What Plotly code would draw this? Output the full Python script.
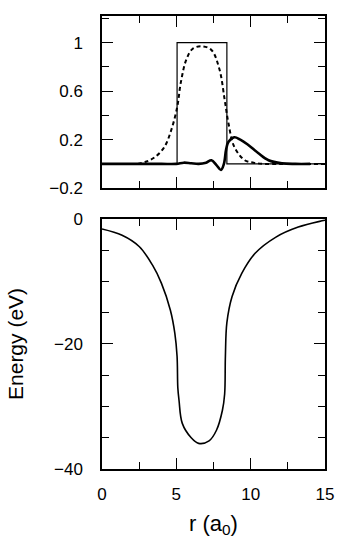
import plotly.graph_objects as go
from plotly.subplots import make_subplots

# --- Top panel data ---
step_r = [0, 5.05, 5.05, 8.4, 8.4, 15]
step_v = [0, 0, 1.0, 1.0, 0, 0]

dens_r = [2.4, 3.0, 3.6, 4.2, 4.66, 5.06, 5.3, 5.67, 6.1, 6.7, 7.36, 7.9, 8.25, 8.5, 8.9, 9.6, 10.2, 10.9, 12.0, 13.0, 14.0, 15.0]
dens_v = [0.0, 0.02, 0.06, 0.14, 0.28, 0.47, 0.67, 0.86, 0.95, 0.97, 0.94, 0.78, 0.53, 0.34, 0.14, 0.03, 0.01, 0.0, 0.0, 0.0, 0.0, 0.0]

wave_r = [0, 2.0, 4.0, 5.0, 5.5, 6.0, 6.5, 7.0, 7.36, 7.7, 8.0, 8.2, 8.35, 8.5, 8.9, 9.3, 9.8, 10.5, 11.2, 12.1, 13.0, 14.0]
wave_v = [0, 0, 0, 0, 0.01, 0.005, 0.0, 0.01, 0.03, -0.01, -0.05, 0.0, 0.12, 0.18, 0.22, 0.20, 0.16, 0.09, 0.03, 0.005, 0.0, 0.0]

# --- Bottom panel data ---
en_r = [0, 1.35, 2.5, 3.4, 4.0, 4.6, 4.9, 5.05, 5.1, 5.18, 5.4, 6.0, 6.5, 7.2, 7.7, 8.1, 8.25, 8.3, 8.4, 8.75, 9.4, 10.3, 11.7, 13.2, 14.8, 15.0]
en_v = [-1.6, -2.6, -4.4, -7.4, -10.3, -14.6, -18.3, -22.0, -27.0, -29.0, -32.7, -35.0, -35.9, -35.5, -33.8, -30.6, -28.0, -22.0, -16.6, -12.4, -8.7, -5.5, -2.9, -1.3, -0.3, -0.2]

x_range = [0, 15]
top_y_range = [-0.2, 1.22]
bot_y_range = [-40, 0]

fig = make_subplots(rows=2, cols=1, vertical_spacing=0.0)

fig.add_trace(go.Scatter(x=step_r, y=step_v, mode="lines",
                         line=dict(color="black", width=1.2), showlegend=False), row=1, col=1)
fig.add_trace(go.Scatter(x=dens_r, y=dens_v, mode="lines", line_shape="spline",
                         line=dict(color="black", width=2, dash="4px,3px"), showlegend=False), row=1, col=1)
fig.add_trace(go.Scatter(x=wave_r, y=wave_v, mode="lines", line_shape="spline",
                         line=dict(color="black", width=2.6), showlegend=False), row=1, col=1)
fig.add_trace(go.Scatter(x=en_r, y=en_v, mode="lines", line_shape="spline",
                         line=dict(color="black", width=1.6), showlegend=False), row=2, col=1)

font_fam = "Liberation Sans, Arial, sans-serif"
axis_common = dict(showline=True, linecolor="black", linewidth=1.5, mirror="allticks",
                   ticks="inside", tickcolor="black", tickwidth=1.3, showgrid=False,
                   zeroline=False, automargin=False,
                   tickfont=dict(family=font_fam, size=17, color="black"))

fig.update_xaxes(range=x_range, tick0=0, dtick=5, ticklen=11,
                 minor=dict(dtick=2.5, ticklen=7, ticks="inside", tickcolor="black", tickwidth=1.3),
                 **axis_common)
fig.update_xaxes(showticklabels=False, row=1, col=1)
fig.update_xaxes(ticklabelstandoff=9, title=dict(text="r (a<sub>0</sub>)", standoff=12,
                 font=dict(family=font_fam, size=22, color="black")), row=2, col=1)

fig.update_yaxes(range=top_y_range, tick0=-0.2, dtick=0.4, ticklen=11,
                 minor=dict(dtick=0.2, ticklen=7, ticks="inside", tickcolor="black", tickwidth=1.3),
                 ticklabelstandoff=14, row=1, col=1, **axis_common)
fig.update_yaxes(range=bot_y_range, tick0=0, dtick=20, ticklen=11,
                 minor=dict(dtick=5, ticklen=7, ticks="inside", tickcolor="black", tickwidth=1.3),
                 ticklabelstandoff=14,
                 title=dict(text="Energy (eV)", standoff=25, font=dict(family=font_fam, size=21, color="black")),
                 row=2, col=1, **axis_common)

fig.update_layout(
    width=354, height=552,
    margin=dict(l=102, r=29, t=16, b=83),
    paper_bgcolor="white", plot_bgcolor="white",
    yaxis=dict(domain=[0.620, 1.0]),
    yaxis2=dict(domain=[0.0, 0.552]),
)

fig.write_html("out.html", config={"displayModeBar": False},
               post_script="document.body.style.margin='0px';document.body.style.overflow='hidden';")
